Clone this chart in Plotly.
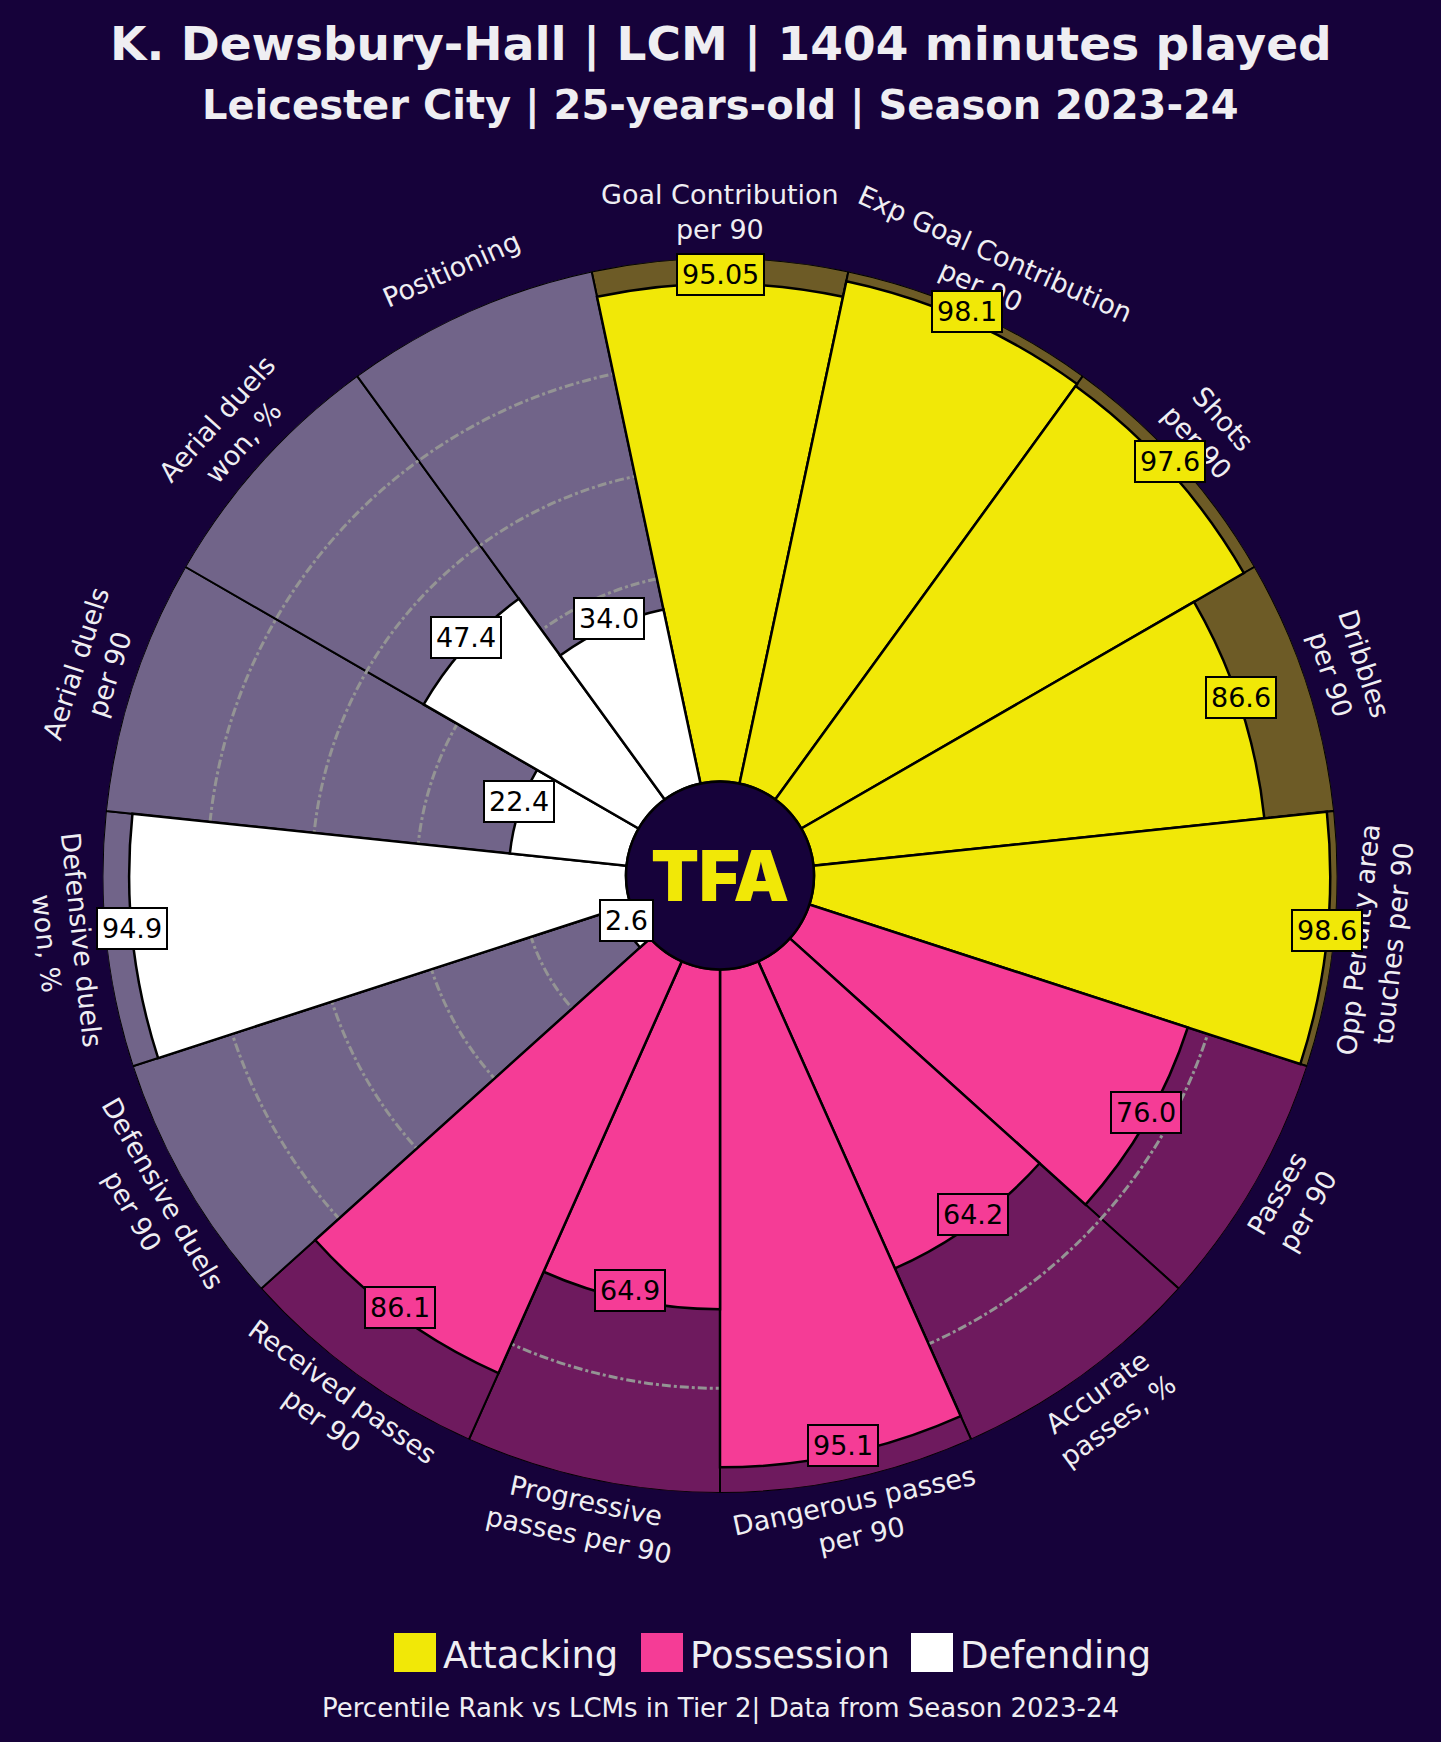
import math
import plotly.graph_objects as go

# ---------------- data ----------------
params = [
    "Goal Contribution<br>per 90", "Exp Goal Contribution<br>per 90", "Shots<br>per 90",
    "Dribbles<br>per 90", "Opp Penalty area<br>touches per 90", "Passes<br>per 90",
    "Accurate<br>passes, %", "Dangerous passes<br>per 90", "Progressive<br>passes per 90",
    "Received passes<br>per 90", "Defensive duels<br>per 90", "Defensive duels<br>won, %",
    "Aerial duels<br>per 90", "Aerial duels<br>won, %", "Positioning",
]
values = [95.05, 98.1, 97.6, 86.6, 98.6, 76.0, 64.2, 95.1, 64.9, 86.1, 2.6, 94.9, 22.4, 47.4, 34.0]
value_labels = ["95.05", "98.1", "97.6", "86.6", "98.6", "76.0", "64.2", "95.1", "64.9",
                "86.1", "2.6", "94.9", "22.4", "47.4", "34.0"]
groups = ["Attacking"] * 5 + ["Possession"] * 5 + ["Defending"] * 5
group_names = ["Attacking", "Possession", "Defending"]
grid_levels = [20, 40, 60, 80]

title = "K. Dewsbury-Hall | LCM | 1404 minutes played"
subtitle = "Leicester City | 25-years-old | Season 2023-24"
footer = "Percentile Rank vs LCMs in Tier 2| Data from Season 2023-24"

# ---------------- style ----------------
BG = "#16023a"
SLICE = {"Attacking": "#f1e807", "Possession": "#f53c96", "Defending": "#ffffff"}
SLICE_BG = {"Attacking": "#6d5b26", "Possession": "#6e1a5e", "Defending": "#716489"}
TXT = "#efeef2"
FONT = "DejaVu Sans"

W, H = 1441, 1742
CX, CY = 720, 875.5
R_OUT, R_IN = 617.5, 94
LABEL_R = 660
BOX_DY = -9
LABEL_DY = -3


def px(x):
    return x / W


def py(y):
    return 1 - y / H


n = len(values)
step = 360 / n
thetas = [i * step for i in range(n)]
colors = [SLICE[g] for g in groups]
bg_colors = [SLICE_BG[g] for g in groups]

dom_x = [px(CX - R_OUT), px(CX + R_OUT)]
dom_y = [py(CY + R_OUT), py(CY - R_OUT)]

fig = go.Figure()

# background slices (to 100)
fig.add_trace(go.Barpolar(
    r=[100] * n, theta=thetas, width=[step] * n, base=0,
    marker=dict(color=bg_colors, line=dict(color="#000000", width=2)),
    subplot="polar", showlegend=False, hoverinfo="skip",
))
# value slices
fig.add_trace(go.Barpolar(
    r=values, theta=thetas, width=[step] * n, base=0,
    marker=dict(color=colors, line=dict(color="#000000", width=2.5)),
    subplot="polar2", showlegend=False, customdata=params,
    hovertemplate="%{customdata}: %{r}<extra></extra>",
))

common_ang = dict(rotation=90, direction="clockwise", visible=False, showgrid=False)
fig.update_layout(
    width=W, height=H,
    paper_bgcolor=BG, plot_bgcolor=BG,
    margin=dict(l=0, r=0, t=0, b=0),
    polar=dict(
        domain=dict(x=dom_x, y=dom_y), hole=R_IN / R_OUT, bgcolor="rgba(0,0,0,0)",
        radialaxis=dict(range=[0, 100], visible=False, showgrid=False),
        angularaxis=common_ang,
    ),
    polar2=dict(
        domain=dict(x=dom_x, y=dom_y), hole=R_IN / R_OUT, bgcolor="rgba(0,0,0,0)",
        radialaxis=dict(range=[0, 100], visible=True, showgrid=True, tickvals=grid_levels,
                        gridcolor="#949494", griddash="dashdot", gridwidth=2.6,
                        showticklabels=False, showline=False, ticks=""),
        angularaxis=dict(rotation=90, direction="clockwise", showgrid=False,
                         showticklabels=False, showline=False, ticks=""),
    ),
    showlegend=False,
)

annotations = []
shapes = []

# centre disc + logo
shapes.append(dict(type="circle", xref="paper", yref="paper", layer="above",
                   x0=px(CX - R_IN), x1=px(CX + R_IN), y0=py(CY + R_IN), y1=py(CY - R_IN),
                   fillcolor=BG, line=dict(color="#000000", width=2.5)))
annotations.append(dict(text="TFA", x=px(CX), y=py(CY), xref="paper", yref="paper",
                        showarrow=False, xanchor="center", yanchor="middle",
                        font=dict(family="Inter", size=70, color="#f1e807", weight=900)))

# parameter labels & value boxes
for i in range(n):
    ang = 90 - thetas[i]
    a = math.radians(ang)
    rot = ang - 90
    while rot < -90:
        rot += 180
    while rot > 90:
        rot -= 180
    lx = CX + LABEL_R * math.cos(a)
    ly = CY - LABEL_R * math.sin(a) + LABEL_DY
    annotations.append(dict(text=params[i], x=px(lx), y=py(ly), xref="paper", yref="paper",
                            showarrow=False, xanchor="center", yanchor="middle", align="center",
                            textangle=-rot,
                            font=dict(family=FONT, size=27, color=TXT)))
    rv = R_IN + values[i] / 100 * (R_OUT - R_IN)
    vx = CX + rv * math.cos(a)
    vy = CY - rv * math.sin(a) + BOX_DY
    annotations.append(dict(text=value_labels[i], x=px(vx), y=py(vy), xref="paper", yref="paper",
                            showarrow=False, xanchor="center", yanchor="middle",
                            bgcolor=colors[i], bordercolor="#000000", borderwidth=2, borderpad=4,
                            font=dict(family=FONT, size=27, color="#000000")))

# titles
annotations.append(dict(text=f"<b>{title}</b>", x=0.5, y=py(44), xref="paper", yref="paper",
                        showarrow=False, xanchor="center", yanchor="middle",
                        font=dict(family=FONT, size=47, color=TXT)))
annotations.append(dict(text=f"<b>{subtitle}</b>", x=0.5, y=py(106), xref="paper", yref="paper",
                        showarrow=False, xanchor="center", yanchor="middle",
                        font=dict(family=FONT, size=40, color=TXT)))
annotations.append(dict(text=footer, x=0.5, y=py(1708), xref="paper", yref="paper",
                        showarrow=False, xanchor="center", yanchor="middle",
                        font=dict(family=FONT, size=26, color=TXT)))

# legend
leg_x = [394, 641, 911]
for g, x0 in zip(group_names, leg_x):
    shapes.append(dict(type="rect", xref="paper", yref="paper",
                       x0=px(x0), x1=px(x0 + 42), y0=py(1672), y1=py(1633),
                       fillcolor=SLICE[g], line=dict(width=0)))
    annotations.append(dict(text=g, x=px(x0 + 47), y=py(1655), xref="paper", yref="paper",
                            showarrow=False, xanchor="left", yanchor="middle",
                            font=dict(family=FONT, size=37, color=TXT)))

fig.update_layout(annotations=annotations, shapes=shapes)
fig.write_html(
    "out.html",
    config={"displayModeBar": False},
    post_script="document.body.style.margin='0';document.body.style.background='#16023a';",
)
